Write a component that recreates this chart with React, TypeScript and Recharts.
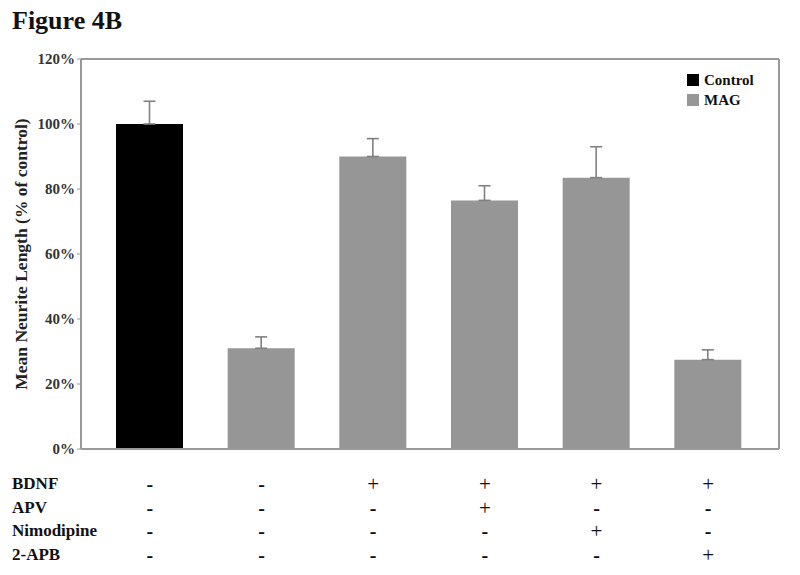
import { Bar, BarChart, Cell, ErrorBar, XAxis, YAxis } from "recharts";

// Figure 4B – mean neurite length as % of control
const groups = ["Control", "MAG", "MAG", "MAG", "MAG", "MAG"];
const meanLength = [100, 31, 90, 76.5, 83.5, 27.5];
const sem = [7, 3.5, 5.5, 4.5, 9.5, 3];
const yTicks = [0, 20, 40, 60, 80, 100, 120];

const treatments = ["BDNF", "APV", "Nimodipine", "2-APB"];
const bdnf = ["-", "-", "+", "+", "+", "+"];
const apv = ["-", "-", "-", "+", "-", "-"];
const nimodipine = ["-", "-", "-", "-", "+", "-"];
const apb = ["-", "-", "-", "-", "-", "+"];
const treatmentRows = [bdnf, apv, nimodipine, apb];

const legendItems = ["Control", "MAG"];

const FONT = "'Liberation Serif', 'Times New Roman', serif";
const GREY = "#969696";
const FRAME = "#999999";
const colorFor = (g: string) => (g === "Control" ? "#000000" : GREY);
const ROW_Y = [491, 515, 538, 562];

const data = meanLength.map((v, i) => ({
  name: `c${i}`,
  group: groups[i],
  value: v,
  err: [0, sem[i]],
}));

const TableTick = (props: any) => {
  const { x, payload } = props;
  const i = payload.index;
  return (
    <g>
      {treatmentRows.map((row, r) => (
        <text
          key={r}
          x={x}
          y={ROW_Y[r]}
          textAnchor="middle"
          fontFamily={FONT}
          fontWeight={row[i] === "-" ? 700 : 400}
          fontSize={row[i] === "-" ? 20 : 21}
          fill="#111"
        >
          {row[i]}
        </text>
      ))}
    </g>
  );
};

const App = () => {
  return (
    <div
      style={{
        position: "absolute",
        left: 0,
        top: 0,
        width: 800,
        height: 575,
        background: "#fff",
        fontFamily: FONT,
      }}
    >
      <div
        style={{
          position: "absolute",
          left: 12,
          top: 6,
          fontSize: 26,
          fontWeight: 700,
          color: "#111",
        }}
      >
        Figure 4B
      </div>

      <BarChart
        width={800}
        height={575}
        data={data}
        margin={{ top: 58, right: 20, bottom: 125, left: 21 }}
        style={{ position: "absolute", left: 0, top: 0 }}
      >
        <XAxis
          dataKey="name"
          xAxisId="bottom"
          height={1}
          padding={{ left: 13, right: 15 }}
          axisLine={{ stroke: FRAME, strokeWidth: 2 }}
          tickLine={false}
          tick={<TableTick />}
          interval={0}
        />
        <XAxis
          dataKey="name"
          xAxisId="top"
          orientation="top"
          height={1}
          axisLine={{ stroke: FRAME, strokeWidth: 2 }}
          tickLine={false}
          tick={false}
        />
        <YAxis
          yAxisId="left"
          width={60}
          domain={[0, 120]}
          ticks={yTicks}
          tickFormatter={(v) => `${v}%`}
          axisLine={{ stroke: FRAME, strokeWidth: 2 }}
          tickLine={{ stroke: FRAME }}
          tickSize={4}
          tick={{ fontFamily: FONT, fontSize: 15, fontWeight: 700, fill: "#333" }}
          label={{
            value: "Mean Neurite Length (% of control)",
            angle: -90,
            position: "insideLeft",
            offset: 0,
            style: {
              fontFamily: FONT,
              fontSize: 17.5,
              fontWeight: 700,
              fill: "#222",
              textAnchor: "middle",
            },
          }}
        />
        <YAxis
          yAxisId="right"
          orientation="right"
          width={1}
          domain={[0, 120]}
          axisLine={{ stroke: FRAME, strokeWidth: 2 }}
          tickLine={false}
          tick={false}
        />
        <Bar
          dataKey="value"
          xAxisId="bottom"
          yAxisId="left"
          barSize={67}
          isAnimationActive={false}
        >
          {data.map((d, i) => (
            <Cell key={i} fill={colorFor(d.group)} />
          ))}
          <ErrorBar
            dataKey="err"
            direction="y"
            width={6}
            stroke="#808080"
            strokeWidth={1.6}
          />
        </Bar>
      </BarChart>

      <div style={{ position: "absolute", left: 687, top: 70 }}>
        {legendItems.map((name) => (
          <div
            key={name}
            style={{
              display: "flex",
              alignItems: "center",
              height: 20,
              fontSize: 15,
              fontWeight: 700,
              color: "#111",
            }}
          >
            <span
              style={{
                display: "inline-block",
                width: 12,
                height: 12,
                marginRight: 5,
                background: colorFor(name),
              }}
            />
            {name}
          </div>
        ))}
      </div>

      {treatments.map((t, r) => (
        <div
          key={t}
          style={{
            position: "absolute",
            left: 12,
            top: ROW_Y[r] - 17,
            fontSize: 17,
            fontWeight: 700,
            color: "#111",
            lineHeight: "20px",
          }}
        >
          {t}
        </div>
      ))}
    </div>
  );
};

export default App;
